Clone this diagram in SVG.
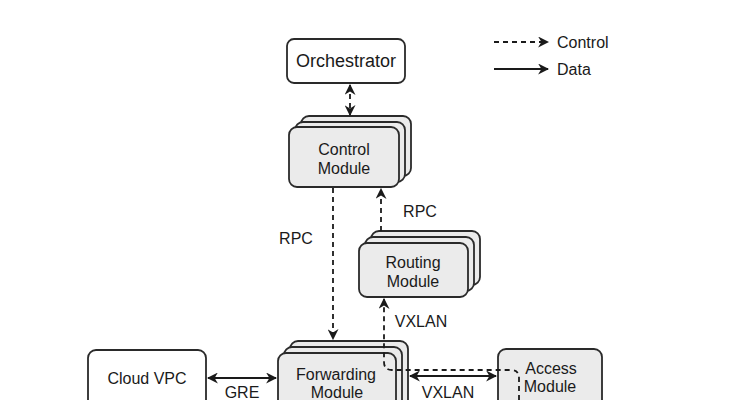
<svg xmlns="http://www.w3.org/2000/svg" width="742" height="400" viewBox="0 0 742 400">
<style>
text{font-family:"Liberation Sans",Arial,sans-serif;font-size:16px;fill:#1a1a1a;text-anchor:middle}
.w{fill:#fff;stroke:#2a2a2a;stroke-width:1.8}
.g{fill:#ebebeb;stroke:#2a2a2a;stroke-width:1.8}
.c{fill:none;stroke:#1a1a1a;stroke-width:1.8}
.d{stroke-dasharray:5 4}
</style>
<defs>
<marker id="ah" viewBox="0 0 10 10" refX="9" refY="5" markerWidth="11" markerHeight="11" markerUnits="userSpaceOnUse" orient="auto-start-reverse">
<path d="M0,0 L10,5 L0,10 L3,5 z" fill="#1a1a1a"/>
</marker>
</defs>
<rect width="742" height="400" fill="#fff"/>
<g id="orchestrator">
<rect class="w" x="287" y="39" width="118" height="44" rx="7"/>
<text x="346" y="67" style="font-size:18px">Orchestrator</text>
</g>
<g id="control-module">
<rect class="g" x="301" y="116" width="110" height="60" rx="8"/>
<rect class="g" x="295" y="122" width="110" height="60" rx="8"/>
<rect class="g" x="289" y="127" width="110" height="60" rx="8"/>
<text x="344" y="155">Control</text>
<text x="344" y="174">Module</text>
</g>
<g id="routing-module">
<rect class="g" x="371" y="231" width="109" height="54" rx="8"/>
<rect class="g" x="365" y="237" width="109" height="54" rx="8"/>
<rect class="g" x="359" y="243" width="109" height="54" rx="8"/>
<text x="413" y="268">Routing</text>
<text x="413" y="287">Module</text>
</g>
<g id="forwarding-module">
<rect class="g" x="290" y="341" width="118" height="70" rx="8"/>
<rect class="g" x="284" y="347" width="118" height="70" rx="8"/>
<rect class="g" x="278" y="353" width="118" height="70" rx="8"/>
<text x="336" y="380">Forwarding</text>
<text x="337" y="398">Module</text>
</g>
<g id="cloud-vpc">
<rect class="w" x="88" y="350" width="118" height="70" rx="8"/>
<text x="147" y="384">Cloud VPC</text>
</g>
<g id="access-module">
<rect class="g" x="498" y="349" width="104" height="70" rx="8"/>
<text x="551" y="374">Access</text>
<text x="550" y="392">Module</text>
</g>
<g id="connectors">
<line class="c d" x1="350" y1="85" x2="350" y2="115" marker-start="url(#ah)" marker-end="url(#ah)"/>
<line class="c d" x1="333" y1="188" x2="333" y2="339" marker-end="url(#ah)"/>
<line class="c d" x1="381" y1="231" x2="381" y2="189" marker-end="url(#ah)"/>
<path class="c d" d="M519,400 L519,378 Q519,370 511,370 L392,370 Q384,370 384,362 L384,299" marker-end="url(#ah)"/>
<line class="c" x1="208" y1="378" x2="276" y2="378" marker-start="url(#ah)" marker-end="url(#ah)"/>
<line class="c" x1="410" y1="376" x2="496" y2="376" marker-start="url(#ah)" marker-end="url(#ah)"/>
<text x="296" y="244">RPC</text>
<text x="420" y="217">RPC</text>
<text x="421" y="327">VXLAN</text>
<text x="242" y="398">GRE</text>
<text x="448" y="398">VXLAN</text>
</g>
<g id="legend">
<line class="c d" x1="494" y1="42" x2="548" y2="42" marker-end="url(#ah)"/>
<line class="c" x1="494" y1="69" x2="548" y2="69" marker-end="url(#ah)"/>
<text x="557" y="48" style="text-anchor:start">Control</text>
<text x="557" y="75" style="text-anchor:start">Data</text>
</g>
</svg>
